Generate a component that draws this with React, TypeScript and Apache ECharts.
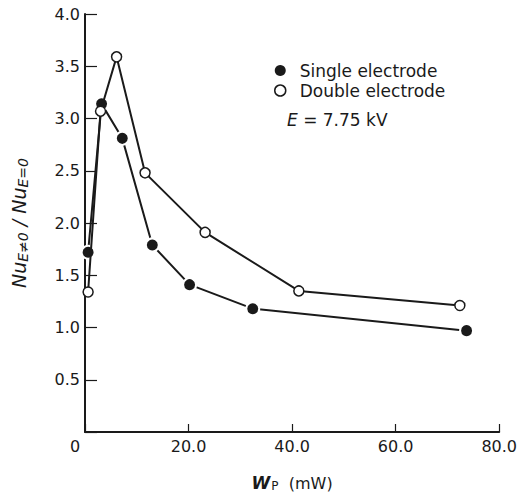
import React, { useEffect, useRef } from "react";
import * as echarts from "echarts";

const singleX = [0.6, 3.2, 7.2, 13.0, 20.2, 32.4, 73.7];
const singleY = [1.72, 3.14, 2.81, 1.79, 1.41, 1.18, 0.97];
const doubleX = [0.6, 3.0, 6.1, 11.6, 23.2, 41.3, 72.4];
const doubleY = [1.34, 3.07, 3.59, 2.48, 1.91, 1.35, 1.21];
const seriesNames = ["Single electrode", "Double electrode"];
const xTicks = [0, 20, 40, 60, 80];
const yTicks = [0, 0.5, 1, 1.5, 2, 2.5, 3, 3.5, 4];

const FONT = "DejaVu Sans";
const INK = "#1a1a1a";

export default function App() {
  const ref = useRef<HTMLDivElement>(null);
  useEffect(() => {
    document.body.style.margin = "0";
    if (!ref.current) return;
    const chart = echarts.init(ref.current, undefined, { renderer: "svg" });
    const pair = (xs: number[], ys: number[]) => xs.map((x, i) => [x, ys[i]]);
    chart.setOption({
      animation: false,
      backgroundColor: "#fff",
      textStyle: { fontFamily: FONT, color: INK },
      grid: { left: 85, right: 15, top: 14, bottom: 61 },
      legend: {
        orient: "vertical",
        left: 269,
        top: 57,
        itemGap: 3,
        itemWidth: 11,
        itemHeight: 11,
        icon: "circle",
        textStyle: { fontSize: 17, color: INK, fontFamily: FONT, padding: [0, 0, 0, 9] },
        data: [
          { name: seriesNames[0], itemStyle: { color: INK, borderWidth: 0 } },
          { name: seriesNames[1], itemStyle: { color: "#fff", borderColor: INK, borderWidth: 1.5 } },
        ],
      },
      graphic: [
        {
          type: "text",
          left: 287,
          top: 111,
          style: {
            text: "{i|E} = 7.75 kV",
            fontSize: 17,
            fontFamily: FONT,
            fill: INK,
            rich: { i: { fontStyle: "italic", fontSize: 17, fontFamily: FONT } },
          },
        },
      ],
      xAxis: {
        type: "value",
        min: 0,
        max: 80,
        interval: 20,
        splitLine: { show: false },
        axisLine: { lineStyle: { color: INK, width: 2 } },
        axisTick: { inside: true, length: 8, lineStyle: { color: INK, width: 1.2 } },
        axisLabel: {
          color: INK,
          fontSize: 16,
          fontFamily: FONT,
          margin: 6,
          formatter: (v: number) => (v === 0 ? "{z|0}" : v.toFixed(1)),
          rich: { z: { fontSize: 16, fontFamily: FONT, color: INK, padding: [0, 20, 0, 0] } },
        },
        name: "{w|W}{p|P}  (mW)",
        nameLocation: "middle",
        nameGap: 42,
        nameTextStyle: {
          fontSize: 16,
          color: INK,
          fontFamily: FONT,
          rich: {
            w: { fontStyle: "italic", fontWeight: "bold", fontSize: 17, fontFamily: FONT, color: INK },
            p: { fontSize: 12, fontFamily: FONT, color: INK, padding: [6, 0, 0, 1] },
          },
        },
      },
      yAxis: {
        type: "value",
        min: 0,
        max: 4,
        interval: 0.5,
        splitLine: { show: false },
        axisLine: { lineStyle: { color: INK, width: 2 } },
        axisTick: { inside: true, length: 12, lineStyle: { color: INK, width: 1.2 } },
        axisLabel: {
          color: INK,
          fontSize: 16,
          fontFamily: FONT,
          margin: 5,
          formatter: (v: number) => (v === 0 ? "" : v.toFixed(1)),
        },
        name: "{n|Nu}{s|E≠0}{n| / Nu}{s|E=0}",
        nameLocation: "middle",
        nameRotate: 90,
        nameGap: 55,
        nameTextStyle: {
          color: INK,
          rich: {
            n: { fontStyle: "italic", fontSize: 19, fontFamily: FONT, color: INK },
            s: { fontStyle: "italic", fontSize: 14, fontFamily: FONT, color: INK, padding: [8, 0, 0, 0] },
          },
        },
      },
      series: [
        {
          name: seriesNames[0],
          type: "line",
          data: pair(singleX, singleY),
          symbol: "circle",
          symbolSize: 13,
          lineStyle: { color: INK, width: 2 },
          itemStyle: { color: INK, borderColor: "#fff", borderWidth: 2 },
          z: 3,
        },
        {
          name: seriesNames[1],
          type: "line",
          data: pair(doubleX, doubleY),
          symbol: "circle",
          symbolSize: 10,
          showAllSymbol: true,
          lineStyle: { color: INK, width: 2 },
          itemStyle: { color: "#fff", borderColor: INK, borderWidth: 1.5 },
          z: 4,
        },
      ],
    });
    return () => chart.dispose();
  }, []);
  return <div ref={ref} style={{ width: 520, height: 497 }} />;
}
